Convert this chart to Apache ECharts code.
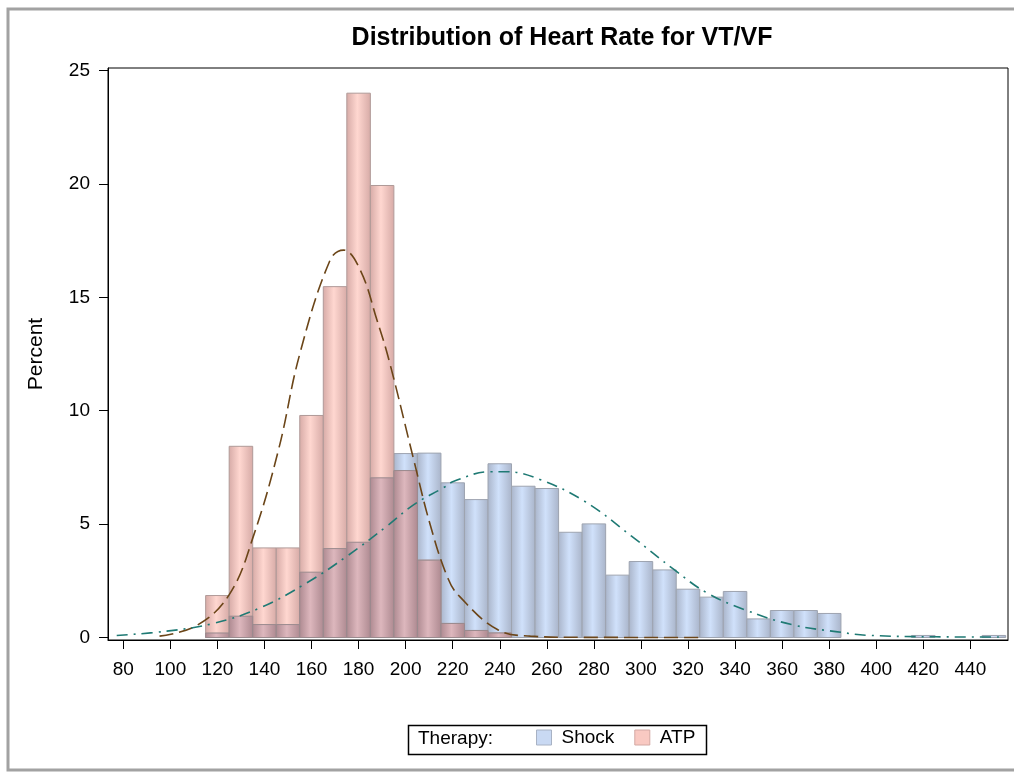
<!DOCTYPE html>
<html>
<head>
<meta charset="utf-8">
<script src="https://cdn.jsdelivr.net/npm/echarts@6/dist/echarts.min.js"></script>
<style>
  html, body { margin: 0; padding: 0; background: #fff; }
  #main { width: 1014px; height: 772px; }
</style>
</head>
<body>
<div id="main"></div>
<script>
// histogram bins (centre of each 10 bpm bin)
const binCenters = [120, 130, 140, 150, 160, 170, 180, 190, 200, 210, 220, 230, 240, 250, 260, 270, 280, 290, 300, 310, 320, 330, 340, 350, 360, 370, 380, 390, 400, 410, 420, 430, 440, 450];
const shockPct = [0.2, 0.94, 0.57, 0.57, 2.88, 3.92, 4.2, 7.04, 8.11, 8.13, 6.82, 6.08, 7.66, 6.67, 6.57, 4.64, 5.01, 2.75, 3.35, 2.98, 2.13, 1.78, 2.03, 0.82, 1.19, 1.19, 1.06, 0, 0, 0, 0.09, 0, 0, 0.09];
const atpPct = [1.85, 8.43, 3.95, 3.95, 9.79, 15.47, 24.0, 19.93, 7.36, 3.41, 0.62, 0.31, 0.2, 0, 0, 0, 0, 0, 0, 0, 0, 0, 0, 0, 0, 0, 0, 0, 0, 0, 0, 0, 0, 0];
const binWidth = 10;

// fitted normal curves
const atpCurveX = [95.4, 111.2, 125.1, 135.3, 146, 155, 168, 173.6, 180.7, 187.8, 193, 203.4, 210.5, 218, 223, 239, 253, 270, 325];
const atpCurveY = [0.06, 0.53, 1.9, 4.47, 8.29, 12.5, 16.67, 17.08, 16.2, 14.0, 12.2, 7.85, 4.95, 2.6, 1.8, 0.35, 0.06, 0.01, 0];
const shockCurveX = [77.2, 98.5, 118.3, 138.2, 158, 175, 192, 203.5, 216, 220.5, 236, 243, 257, 276, 296, 314, 328, 344, 364, 385, 396, 425, 453];
const shockCurveY = [0.09, 0.28, 0.62, 1.31, 2.41, 3.58, 4.91, 5.86, 6.6, 6.89, 7.31, 7.31, 6.97, 6.01, 4.47, 3.0, 1.97, 1.23, 0.57, 0.23, 0.1, 0.03, 0.02];

const xTicks = [80, 100, 120, 140, 160, 180, 200, 220, 240, 260, 280, 300, 320, 340, 360, 380, 400, 420, 440];
const yTicks = [0, 5, 10, 15, 20, 25];

const FONT = '"Liberation Sans", Arial, sans-serif';

const chart = echarts.init(document.getElementById('main'));

function sheen(edge, mid) {
  return new echarts.graphic.LinearGradient(0, 0, 1, 0, [
    { offset: 0, color: edge },
    { offset: 0.45, color: mid },
    { offset: 1, color: edge }
  ]);
}

// draws one bin as a rect from 0 up to its value, through the axes
function makeBars(edge, mid, stroke) {
  return function (params, api) {
    const x = api.value(0);
    const y = api.value(1);
    if (!(y > 0)) return null;
    const p0 = api.coord([x - binWidth / 2, y]);
    const p1 = api.coord([x + binWidth / 2, 0]);
    return {
      type: 'rect',
      shape: { x: p0[0], y: p0[1], width: p1[0] - p0[0], height: p1[1] - p0[1] },
      style: { fill: sheen(edge, mid), stroke: stroke, lineWidth: 1 }
    };
  };
}

const shockData = binCenters.map((c, i) => [c, shockPct[i]]);
const atpData = binCenters.map((c, i) => [c, atpPct[i]]);
// where the two transparent histograms overlap
const overlapData = binCenters.map((c, i) => [c, Math.min(shockPct[i], atpPct[i])]);

const option = {
  animation: false,
  title: {
    text: 'Distribution of Heart Rate for VT/VF',
    left: 557,
    top: 21,
    textAlign: 'center',
    textStyle: { fontFamily: FONT, fontSize: 25, fontWeight: 'bold', color: '#000' }
  },
  grid: {
    left: 108, right: 6, top: 68, bottom: 132,
    show: true, borderColor: '#000', borderWidth: 1, backgroundColor: 'transparent'
  },
  legend: {
    left: 531, top: 723,
    itemWidth: 15, itemHeight: 15, itemGap: 20,
    selectedMode: false,
    textStyle: { fontFamily: FONT, fontSize: 19, color: '#000', padding: [0, 0, 0, 5] },
    data: [
      { name: 'Shock', icon: 'rect', itemStyle: { color: '#c9d9f3', borderColor: '#a8b2c4', borderWidth: 1 } },
      { name: 'ATP', icon: 'rect', itemStyle: { color: '#f9c9c2', borderColor: '#d3a8a3', borderWidth: 1 } }
    ]
  },
  graphic: [
    { type: 'rect', shape: { x: 8, y: 9, width: 1020, height: 761 }, style: { fill: 'none', stroke: '#a2a2a2', lineWidth: 3 }, silent: true, z: -10 },
    { type: 'rect', shape: { x: 408.5, y: 725.5, width: 298, height: 29 }, style: { fill: 'none', stroke: '#000', lineWidth: 1.5 }, silent: true },
    { type: 'text', left: 418, top: 729, style: { text: 'Therapy:', fontFamily: FONT, fontSize: 19, fill: '#000' } }
  ],
  xAxis: {
    type: 'value',
    min: 73.5, max: 456,
    axisLine: { show: true, onZero: false, lineStyle: { color: '#000', width: 1 } },
    axisTick: { show: true, length: 9, lineStyle: { color: '#000' }, customValues: xTicks },
    axisLabel: { margin: 20, fontFamily: FONT, fontSize: 19, color: '#000', customValues: xTicks },
    splitLine: { show: false }
  },
  yAxis: {
    type: 'value',
    min: -0.11, max: 25.11,
    name: 'Percent',
    nameLocation: 'middle',
    nameGap: 61,
    nameTextStyle: { fontFamily: FONT, fontSize: 21, color: '#000' },
    axisLine: { show: true, onZero: false, lineStyle: { color: '#000', width: 1 } },
    axisTick: { show: true, length: 9, lineStyle: { color: '#000' }, customValues: yTicks },
    axisLabel: { margin: 18, fontFamily: FONT, fontSize: 19, color: '#000', customValues: yTicks },
    splitLine: { show: false }
  },
  series: [
    {
      name: 'Shock',
      type: 'custom',
      renderItem: makeBars('#a9b4c9', '#d0e1fb', '#9ea4b0'),
      encode: { x: 0, y: 1 },
      data: shockData,
      clip: true,
      z: 2
    },
    {
      name: 'ATP',
      type: 'custom',
      renderItem: makeBars('#d6aaa6', '#ffd7d0', '#b09a98'),
      encode: { x: 0, y: 1 },
      data: atpData,
      clip: true,
      z: 3
    },
    {
      name: 'Overlap',
      type: 'custom',
      renderItem: makeBars('#ad8990', '#ddb7bd', '#9a8a8e'),
      encode: { x: 0, y: 1 },
      data: overlapData,
      clip: true,
      z: 4
    },
    {
      name: 'ATP fit',
      type: 'line',
      data: atpCurveX.map((x, i) => [x, atpCurveY[i]]),
      smooth: 0.4,
      showSymbol: false,
      lineStyle: { color: '#6b4518', width: 1.6, type: [14, 6] },
      z: 5
    },
    {
      name: 'Shock fit',
      type: 'line',
      data: shockCurveX.map((x, i) => [x, shockCurveY[i]]),
      smooth: 0.4,
      showSymbol: false,
      lineStyle: { color: '#1f7a74', width: 1.6, type: [11, 6, 2, 6] },
      z: 5
    }
  ]
};

chart.setOption(option);
</script>
</body>
</html>
